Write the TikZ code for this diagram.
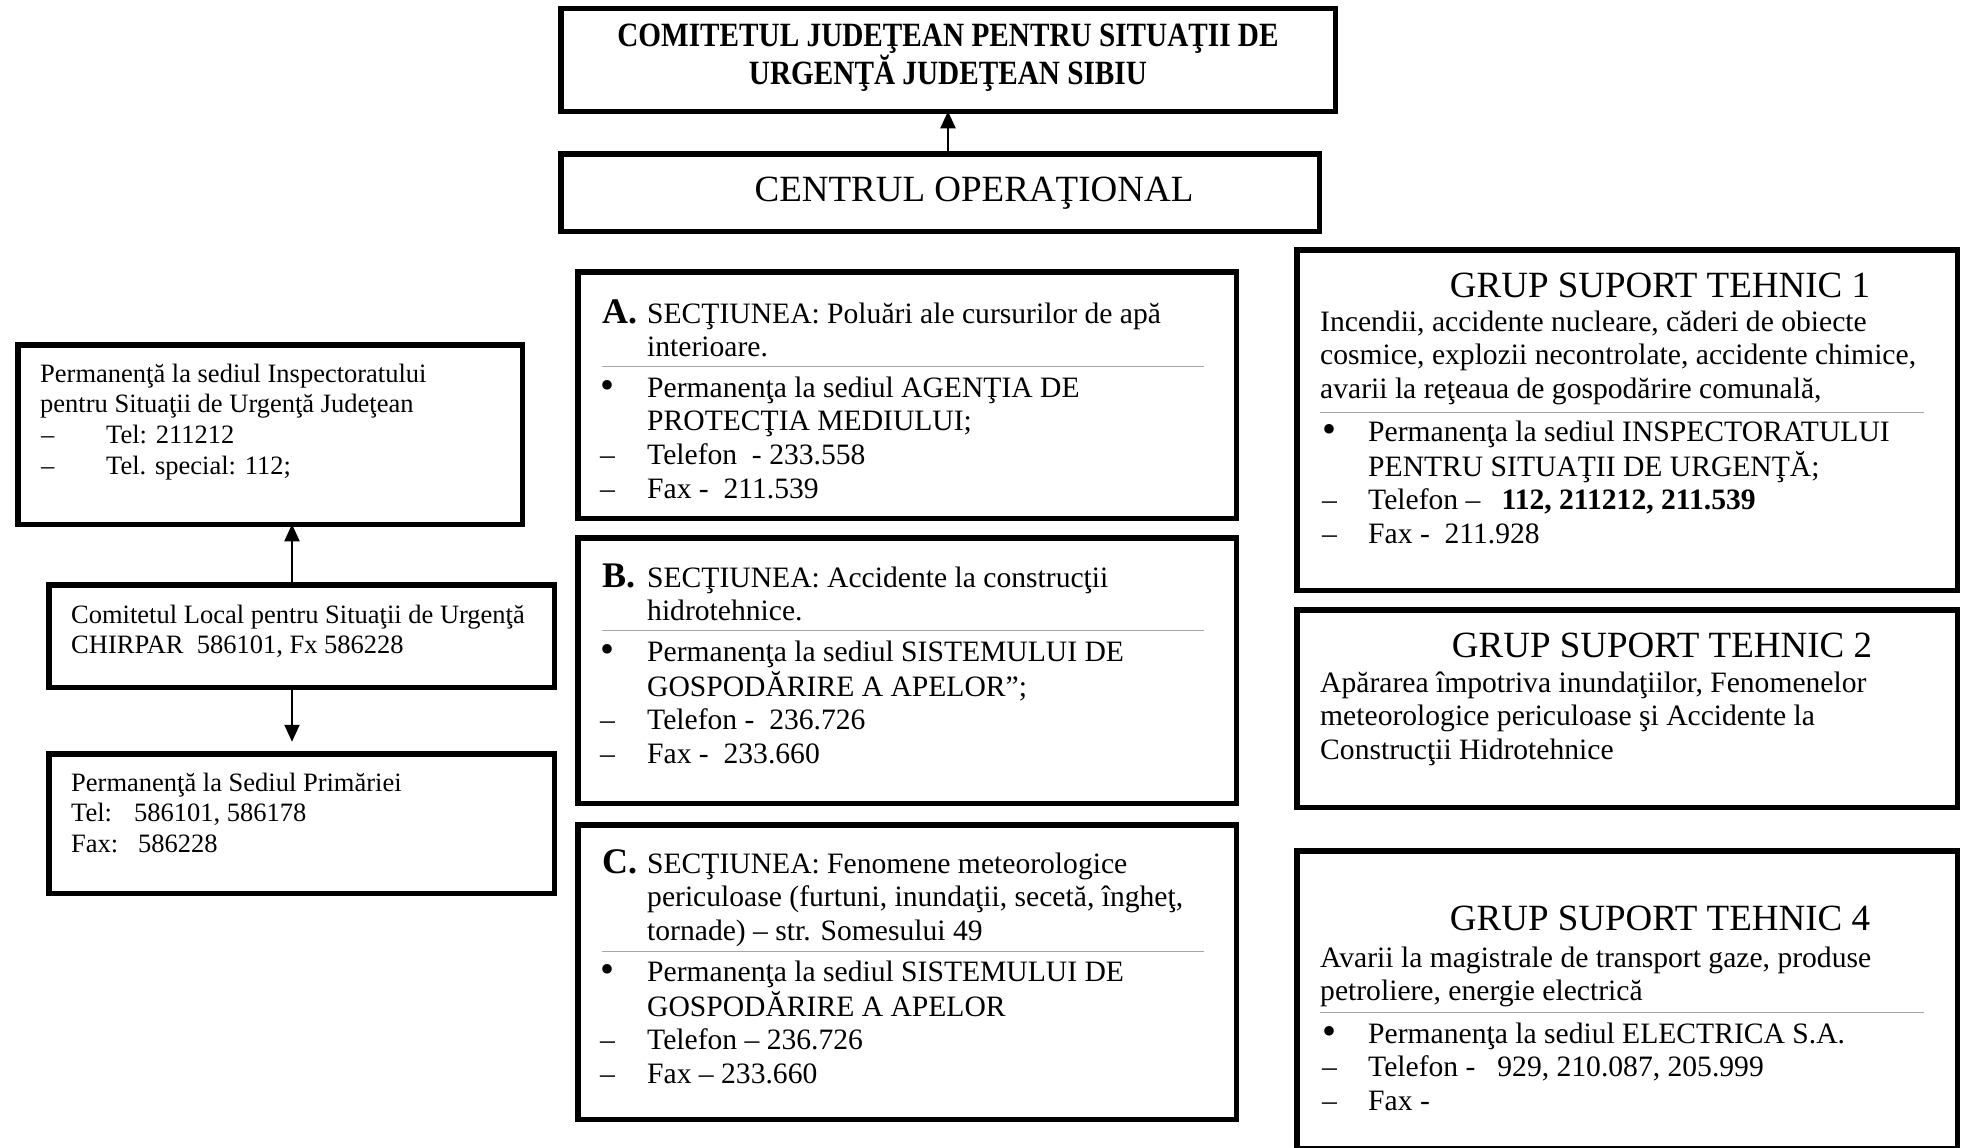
\documentclass[tikz,border=0pt]{standalone}
\usepackage{fontspec}
\setmainfont{Liberation Serif}
\usepackage{array}
\usepackage{graphicx}
\usetikzlibrary{arrows.meta}
\newcommand{\myfmid}{\fontsize{29.6}{33.7}\selectfont}
\newcommand{\myfleft}{\fontsize{26.5}{30.7}\selectfont}
\newcommand{\myfbig}{\fontsize{37}{42}\selectfont}
\newcommand{\myletter}[1]{{\fontsize{36}{36}\selectfont\bfseries #1}}
\newcommand{\mynarrow}[1]{\scalebox{0.86}[1]{#1}}
\newcommand{\mybul}{\raisebox{-1pt}{\scalebox{1.35}{•}}}
\tikzset{
  frame/.style={draw=black, line width=5.5pt, anchor=north west, inner sep=0pt, outer sep=0pt},
  txt/.style={anchor=base west, inner sep=0pt},
  ttl/.style={anchor=base, inner sep=0pt},
  conn/.style={draw=black, line width=2pt, -{Triangle[width=15pt,length=17pt]}},
  seprule/.style={draw=black!35, line width=1pt},
}
% frame from outer corners (x1,y1)-(x2,y2)
\newcommand{\myframe}[5]{%
  \pgfmathsetmacro{\myfw}{#4-#2-5.5}%
  \pgfmathsetmacro{\myfh}{#5-#3-5.5}%
  \node[frame, minimum width=\myfw pt, minimum height=\myfh pt] (#1) at (#2+2.75,#3+2.75) {};}
\begin{document}
\begin{tikzpicture}[x=1pt,y=-1pt]
\useasboundingbox (0,0) rectangle (1963,1148);
\clip (0,0) rectangle (1963,1148);
\fill[white] (0,0) rectangle (1963,1148);

% ---------- top boxes ----------
\myframe{top}{558}{6}{1338}{114}
\node[anchor=center, inner sep=0pt, align=center, font=\fontsize{34}{35}\selectfont\bfseries] (toptxt) at (948,58)
  {\mynarrow{COMITETUL JUDEŢEAN PENTRU SITUAŢII DE}\\\mynarrow{URGENŢĂ JUDEŢEAN SIBIU}};
\myframe{cent}{558}{151}{1322}{234}
\node[ttl, font=\myfbig] (centtxt) at (974,201) {CENTRUL OPERAŢIONAL};
\draw[conn] (cent.north -| top.south) -- (top.south);

% ---------- section A ----------
\myframe{boxA}{575}{269}{1239}{521}
\node[txt] (Ahead) at (602,323) {\myfmid\begin{tabular}[t]{@{}p{45pt}@{}l@{}}
\myletter{A.} & SECŢIUNEA: Poluări ale cursurilor de apă\\
 & interioare.
\end{tabular}};
\draw[seprule] (602,366) -- (1204,366);
\node[txt] (Alist) at (600,397) {\myfmid\begin{tabular}[t]{@{}p{47pt}@{}l@{}}
\mybul & Permanenţa la sediul AGENŢIA DE\\
 & PROTECŢIA MEDIULUI;\\
– & Telefon\ \ - 233.558\\
– & Fax -\ \ 211.539
\end{tabular}};

% ---------- section B ----------
\myframe{boxB}{575}{535}{1239}{806}
\node[txt] (Bhead) at (602,587) {\myfmid\begin{tabular}[t]{@{}p{45pt}@{}l@{}}
\myletter{B.} & SECŢIUNEA: Accidente la construcţii\\
 & hidrotehnice.
\end{tabular}};
\draw[seprule] (602,630) -- (1204,630);
\node[txt] (Blist) at (600,661) {\myfmid\begin{tabular}[t]{@{}p{47pt}@{}l@{}}
\mybul & Permanenţa la sediul SISTEMULUI DE\\
 & GOSPODĂRIRE A APELOR";\\
– & Telefon -\ \ 236.726\\
– & Fax -\ \ 233.660
\end{tabular}};

% ---------- section C ----------
\myframe{boxC}{575}{822}{1239}{1122}
\node[txt] (Chead) at (602,873) {\myfmid\begin{tabular}[t]{@{}p{45pt}@{}l@{}}
\myletter{C.} & SECŢIUNEA: Fenomene meteorologice\\
 & periculoase (furtuni, inundaţii, secetă, îngheţ,\\
 & tornade) – str. Somesului 49
\end{tabular}};
\draw[seprule] (602,951) -- (1204,951);
\node[txt] (Clist) at (600,981) {\myfmid\begin{tabular}[t]{@{}p{47pt}@{}l@{}}
\mybul & Permanenţa la sediul SISTEMULUI DE\\
 & GOSPODĂRIRE A APELOR\\
– & Telefon – 236.726\\
– & Fax – 233.660
\end{tabular}};

% ---------- GST 1 ----------
\myframe{gst1}{1294}{247}{1960}{593}
\node[ttl, font=\myfbig] (g1t) at (1660,297) {GRUP SUPORT TEHNIC 1};
\node[txt] (g1b) at (1320,331) {\myfmid\begin{tabular}[t]{@{}l@{}}
Incendii, accidente nucleare, căderi de obiecte\\
cosmice, explozii necontrolate, accidente chimice,\\
avarii la reţeaua de gospodărire comunală,
\end{tabular}};
\draw[seprule] (1320,412) -- (1924,412);
\node[txt] (g1l) at (1322,441) {\myfmid\begin{tabular}[t]{@{}p{46pt}@{}l@{}}
\mybul & Permanenţa la sediul INSPECTORATULUI\\
 & PENTRU SITUAŢII DE URGENŢĂ;\\
– & Telefon –\hspace{21pt}\textbf{112, 211212, 211.539}\\
– & Fax -\ \ 211.928
\end{tabular}};

% ---------- GST 2 ----------
\myframe{gst2}{1294}{607}{1960}{810}
\node[ttl, font=\myfbig] (g2t) at (1662,657) {GRUP SUPORT TEHNIC 2};
\node[txt] (g2b) at (1320,692) {\myfmid\begin{tabular}[t]{@{}l@{}}
Apărarea împotriva inundaţiilor, Fenomenelor\\
meteorologice periculoase şi Accidente la\\
Construcţii Hidrotehnice
\end{tabular}};

% ---------- GST 4 ----------
\myframe{gst4}{1294}{848}{1960}{1151}
\node[ttl, font=\myfbig] (g4t) at (1660,930) {GRUP SUPORT TEHNIC 4};
\node[txt] (g4b) at (1320,967) {\myfmid\begin{tabular}[t]{@{}l@{}}
Avarii la magistrale de transport gaze, produse\\
petroliere, energie electrică
\end{tabular}};
\draw[seprule] (1320,1012) -- (1924,1012);
\node[txt] (g4l) at (1322,1043) {\myfmid\begin{tabular}[t]{@{}p{46pt}@{}l@{}}
\mybul & Permanenţa la sediul ELECTRICA S.A.\\
– & Telefon -\hspace{22pt}929, 210.087, 205.999\\
– & Fax -
\end{tabular}};

% ---------- left column ----------
\myframe{L1}{15}{342}{525}{527}
\node[txt] (L1t) at (40,382) {\myfleft\begin{tabular}[t]{@{}p{66pt}@{}l@{}}
\multicolumn{2}{@{}l@{}}{Permanenţă la sediul Inspectoratului}\\
\multicolumn{2}{@{}l@{}}{pentru Situaţii de Urgenţă Judeţean}\\
\hspace{1pt}– & Tel: 211212\\
\hspace{1pt}– & Tel. special: 112;
\end{tabular}};

\myframe{L2}{46}{582}{557}{690}
\node[txt] (L2t) at (71,623) {\myfleft\begin{tabular}[t]{@{}l@{}}
Comitetul Local pentru Situaţii de Urgenţă\\
CHIRPAR\ \ 586101, Fx 586228
\end{tabular}};

\myframe{L3}{46}{751}{557}{896}
\node[txt] (L3t) at (71,791) {\myfleft\begin{tabular}[t]{@{}l@{}}
Permanenţă la Sediul Primăriei\\
\makebox[63pt][l]{Tel:}586101, 586178\\
\makebox[67pt][l]{Fax:}586228
\end{tabular}};

\coordinate (ax) at (292,0);
\draw[conn] (L2.north -| ax) -- (L1.south -| ax);
\draw[conn, shorten >=12pt] (L2.south -| ax) -- (L3.north -| ax);
\end{tikzpicture}
\end{document}
